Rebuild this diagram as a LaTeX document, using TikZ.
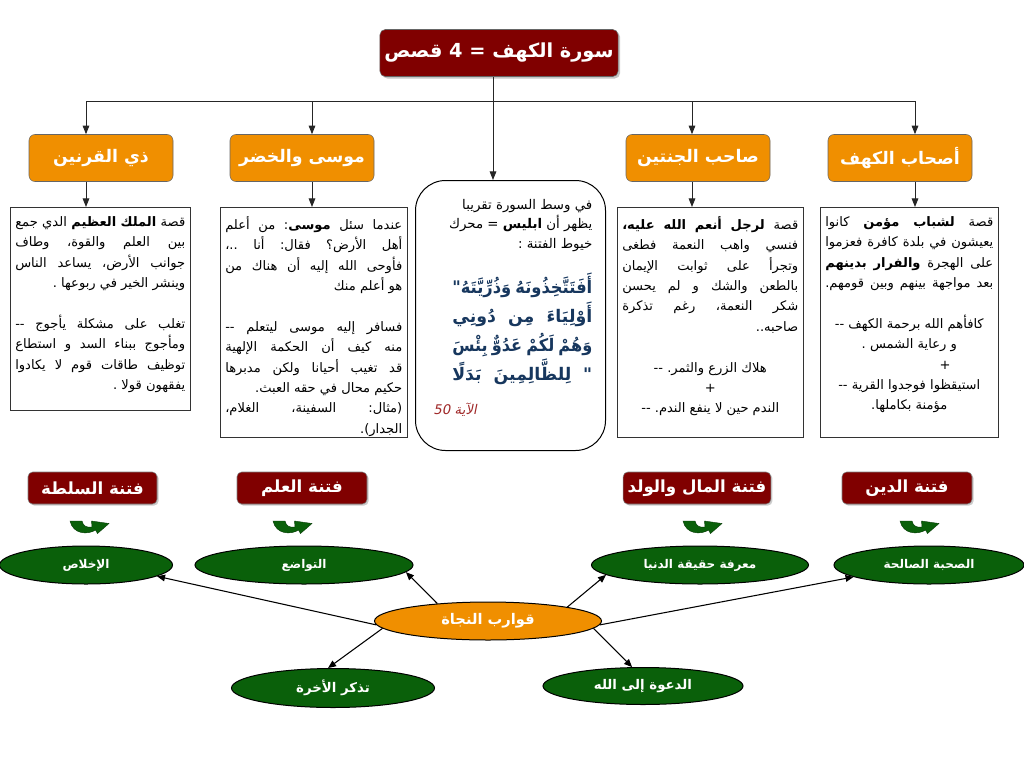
\documentclass[tikz,border=0pt]{standalone}
\usepackage{fontspec}
\usepackage{graphicx}
\usetikzlibrary{shapes.geometric,arrows.meta,shadows,calc}
\TeXXeTstate=1
\frenchspacing
\newfontfamily\ar[Script=Arabic]{DejaVu Sans}
\newfontfamily\arsl[Script=Arabic,FakeSlant=0.2]{DejaVu Sans}
\definecolor{dred}{RGB}{128,0,0}
\definecolor{org}{RGB}{240,143,0}
\definecolor{grn}{RGB}{10,96,10}
\definecolor{qblue}{RGB}{23,55,94}
\definecolor{ayah}{RGB}{160,40,40}
\newsavebox\lnb
\newcommand\fitJ[2]{\sbox\lnb{#2}\ifdim\wd\lnb>#1\relax\hbox to #1{\resizebox{#1}{\height}{\usebox\lnb}}\else\hbox to #1{\spaceskip=\fontdimen2\font plus 1fil\xspaceskip=\spaceskip #2}\fi}
\newcommand\Jl[1]{\fitJ{\hsize}{\beginR#1\endR}}
\newcommand\Rl[1]{\fitJ{\hsize}{\hfill\beginR#1\endR}}
\newcommand\Cl[1]{\fitJ{\hsize}{\hfill\beginR#1\endR\hfill}}
\newcommand\Ql[1]{\hbox to\hsize{\hfill\fitJ{105pt}{#1}}}
\newcommand\Bl{\par\vskip15.3pt\relax}
\newcommand\dd{-\kern0pt-}
\tikzset{
  x=0.75pt, y=-0.75pt,
  titlebox/.style={draw=black!60, fill=dred, rounded corners=4pt, minimum width=174pt, minimum height=35.25pt, text=white, font=\ar\bfseries\fontsize{14.5}{18}\selectfont, drop shadow={shadow xshift=1.5pt,shadow yshift=-1.5pt,opacity=0.45}},
  hdr/.style={draw=black!60, fill=org, rounded corners=4.5pt, minimum width=108pt, minimum height=35.25pt, text=white, font=\ar\bfseries\fontsize{13}{15}\selectfont},
  tframe/.style={draw=black!80, line width=0.75pt, fill=white, inner sep=0pt, anchor=north west},
  ttext/.style={inner sep=0pt, anchor=north west, text width=#1, font=\ar\fontsize{9.8}{15.3}\selectfont},
  flabel/.style={draw=black!50, fill=dred, rounded corners=3.5pt, minimum height=24pt, text=white, font=\ar\bfseries\fontsize{12.5}{14}\selectfont, drop shadow={shadow xshift=1.2pt,shadow yshift=-1.2pt,opacity=0.4}},
  gell/.style={ellipse, draw=black, line width=0.75pt, fill=grn, inner sep=0pt, minimum height=28.5pt, text=white, font=\ar\bfseries\fontsize{9}{11}\selectfont},
  oell/.style={ellipse, draw=black, line width=0.75pt, fill=org, inner sep=0pt, minimum width=170.25pt, minimum height=28.5pt, text=white, font=\ar\bfseries\fontsize{11}{13}\selectfont},
  line/.style={draw=black!85, line width=0.7pt},
  arr/.style={line, -{Triangle[length=6.5pt,width=5pt]}},
  arr2/.style={draw=black, line width=0.8pt, -{Triangle[length=6pt,width=5pt]}},
  carr/.pic={\fill[grn, draw=grn!60!black, line width=0.3pt] (0,0) -- (12,0) .. controls (13,5) and (17,7) .. (22,6) -- (21.5,0) -- (39,2.5) -- (27.5,12.5) -- (25.5,9) .. controls (18,14) and (3,13.5) .. (0,0) -- cycle;}
}
\begin{document}
\begin{tikzpicture}
\fill[white] (0,0) rectangle (1024,768);
\path[use as bounding box] (0,0) rectangle (1024,768);

% title and headers
\node[titlebox] (title) at (499,53) {\beginR سورة الكهف = 4 قصص\endR};
\node[hdr] (h1) at (101,158) {\beginR ذي القرنين\endR};
\node[hdr] (h2) at (302,158) {\beginR موسى والخضر\endR};
\node[hdr] (h5) at (698,158) {\beginR صاحب الجنتين\endR};
\node[hdr] (h6) at (900,158) {\beginR أصحاب الكهف\endR};

% frames
\node[tframe, minimum width=135pt, minimum height=152.25pt] (b1) at (10,207) {};
\node[tframe, minimum width=140.25pt, minimum height=172.5pt] (b2) at (220,207) {};
\node[tframe, minimum width=139.5pt, minimum height=172.5pt] (b5) at (617,207) {};
\node[tframe, minimum width=133.5pt, minimum height=172.5pt] (b6) at (820,207) {};
\node[tframe, rounded corners=22.5pt, draw=black, minimum width=142.5pt, minimum height=202.5pt] (mid) at (415,180) {};

% trunk
\coordinate (j) at (493,101);
\coordinate (a1) at (86,101);
\coordinate (a2) at (312,101);
\coordinate (a3) at (692,101);
\coordinate (a4) at (915,101);
\draw[line] (j |- title.south) -- (j);
\draw[line] (a1) -- (a4);
\draw[arr] (a1) -- (a1 |- h1.north);
\draw[arr] (a2) -- (a2 |- h2.north);
\draw[arr] (a3) -- (a3 |- h5.north);
\draw[arr] (a4) -- (a4 |- h6.north);
\draw[arr] (j) -- (j |- mid.north);
\draw[arr] (a1 |- h1.south) -- (a1 |- b1.north);
\draw[arr] (a2 |- h2.south) -- (a2 |- b2.north);
\draw[arr] (a3 |- h5.south) -- (a3 |- b5.north);
\draw[arr] (a4 |- h6.south) -- (a4 |- b6.north);

% box texts
\node[ttext=127.5pt] (t1) at ($(b1.north west)+(5,9)$) {%
\Jl{قصة \textbf{الملك العظيم} الدي جمع}
\Jl{بين العلم والقوة، وطاف}
\Jl{جوانب الأرض، يساعد الناس}
\Rl{وينشر الخير في ربوعها .}
\Bl
\Jl{تغلب على مشكلة يأجوج \dd}
\Jl{ومأجوج ببناء السد و استطاع}
\Jl{توظيف طاقات قوم لا يكادوا}
\Rl{يفقهون قولا .}};

\node[ttext=132.75pt] (t2) at ($(b2.north west)+(5,9)$) {%
\Jl{عندما سئل \textbf{موسى}: من أعلم}
\Jl{أهل الأرض؟ فقال: أنا ..،}
\Jl{فأوحى الله إليه أن هناك من}
\Rl{هو أعلم منك}
\Bl
\Jl{فسافر إليه موسى ليتعلم \dd}
\Jl{منه كيف أن الحكمة الإلهية}
\Jl{قد تغيب أحيانا ولكن مدبرها}
\Rl{حكيم محال في حقه العبث.}
\Jl{(مثال: السفينة، الغلام،}
\Rl{الجدار).}};

\node[ttext=132pt] (t5) at ($(b5.north west)+(5,9)$) {%
\Jl{قصة \textbf{لرجل أنعم الله عليه،}}
\Jl{فنسي واهب النعمة فطغى}
\Jl{وتجرأ على ثوابت الإيمان}
\Jl{بالطعن والشك و لم يحسن}
\Jl{شكر النعمة، رغم تذكرة}
\Rl{صاحبه..}
\Bl
\Cl{هلاك الزرع والثمر. \dd}
\Cl{+}
\Cl{الندم حين لا ينفع الندم. \dd}};

\node[ttext=126pt] (t6) at ($(b6.north west)+(5,9)$) {%
\Jl{قصة \textbf{لشباب مؤمن} كانوا}
\Jl{يعيشون في بلدة كافرة فعزموا}
\Jl{على الهجرة \textbf{والفرار بدينهم}}
\Jl{بعد مواجهة بينهم وبين قومهم.}
\Bl
\Cl{كافأهم الله برحمة الكهف \dd}
\Cl{و رعاية الشمس .}
\hbox to\hsize{\hskip0.68\hsize +\hfill}
\Cl{استيقظوا فوجدوا القرية \dd}
\Cl{مؤمنة بكاملها.}};

% middle text
\node[ttext=119.25pt, font=\ar\fontsize{10}{14.6}\selectfont] (tm) at (433,199) {%
\Rl{في وسط السورة تقريبا}
\Rl{يظهر أن \textbf{ابليس} = محرك}
\Rl{خيوط الفتنة :}
\vskip12pt
{\bfseries\fontsize{13}{21.75}\selectfont\color{qblue}%
\Ql{\beginR أَفَتَتَّخِذُونَهُ وَذُرِّيَّتَهُ\kern0pt"\endR}
\Ql{\beginR أَوْلِيَاءَ مِن دُونِي\endR}
\Ql{\beginR وَهُمْ لَكُمْ عَدُوٌّ بِئْسَ\endR}
\Ql{\beginR "\ لِلظَّالِمِينَ بَدَلًا\endR}\par}
\vskip10.9pt
\hbox to\hsize{\arsl\fontsize{10}{12}\selectfont\color{ayah}\beginR الآية \beginL50\endL\endR\hfill}};

% fitna labels
\node[flabel, minimum width=96.75pt] (f1) at (92.5,488) {\beginR فتنة السلطة\endR};
\node[flabel, minimum width=97.5pt] (f2) at (302,488) {\beginR فتنة العلم\endR};
\node[flabel, minimum width=109.5pt] (f3) at (697,488) {\beginR فتنة المال والولد\endR};
\node[flabel, minimum width=97.5pt] (f4) at (907,488) {\beginR فتنة الدين\endR};

\pic at (70,521) {carr};
\pic at (273,521) {carr};
\pic at (683,521) {carr};
\pic at (900,521) {carr};

% ellipses
\node[gell, minimum width=129.75pt] (e1) at (86,565) {\beginR الإخلاص\endR};
\node[gell, minimum width=163.5pt] (e2) at (304,565) {\beginR التواضع\endR};
\node[gell, minimum width=162.75pt] (e3) at (700,565) {\beginR معرفة حقيقة الدنيا\endR};
\node[gell, minimum width=142.5pt] (e4) at (929,565) {\beginR الصحبة الصالحة\endR};
\node[oell] (naj) at (488,621) {\beginR قوارب النجاة\endR};
\node[gell, minimum width=152.25pt, minimum height=29.25pt, font=\ar\bfseries\fontsize{10}{12}\selectfont] (tad) at (333,688) {\beginR تذكر الأخرة\endR};
\node[gell, minimum width=150pt, minimum height=27.75pt, font=\ar\bfseries\fontsize{10}{12}\selectfont] (daw) at (643,686) {\beginR الدعوة إلى الله\endR};

\draw[arr2] (naj.182) -- (e1.-9);
\draw[arr2] (naj.161) -- (e2.-4);
\draw[arr2] (naj.10) -- (e3.186);
\draw[arr2] (naj.-2) -- (e4.189);
\draw[arr2] (naj.184) -- (tad.104);
\draw[arr2] (naj.-4) -- (daw.120);
\end{tikzpicture}
\end{document}
